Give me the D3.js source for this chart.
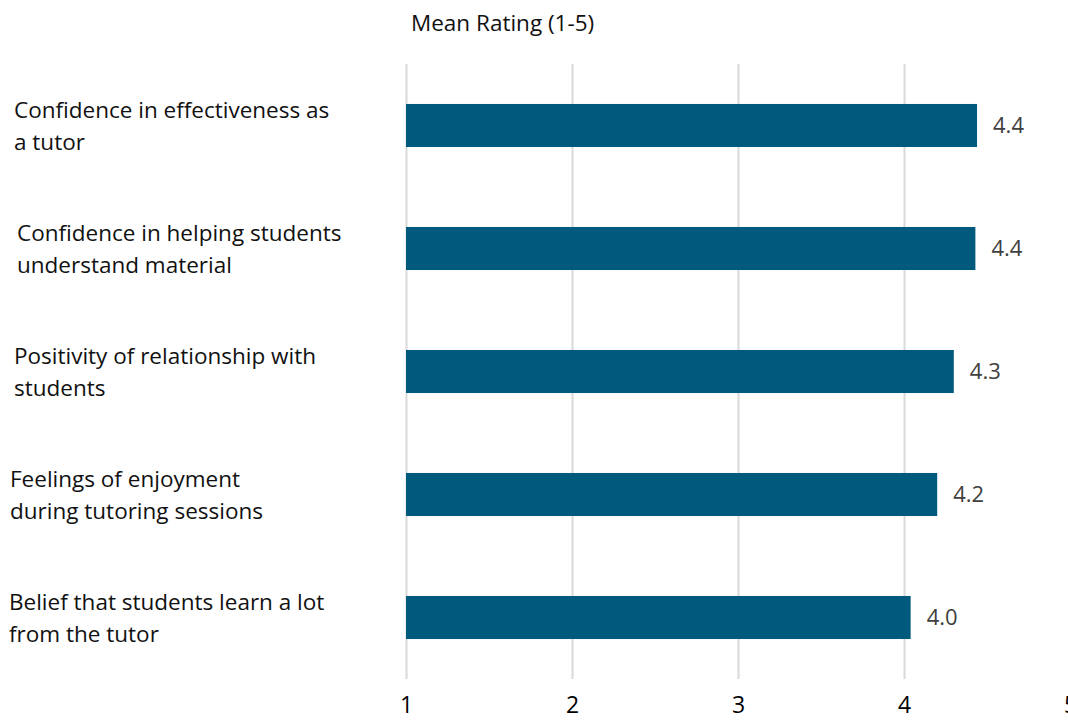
<!DOCTYPE html>
<html>
<head>
<meta charset="utf-8">
<script src="https://cdn.jsdelivr.net/npm/d3@7"></script>
<style>
  body { margin: 0; background: #fff; }
  svg { display: block; font-family: "Segoe UI", "Open Sans", "Noto Sans", sans-serif; }
</style>
</head>
<body>
<div id="chart"></div>
<script>
// data
var categories = [
  ["Confidence in effectiveness as", "a tutor"],
  ["Confidence in helping students", "understand material"],
  ["Positivity of relationship with", "students"],
  ["Feelings of enjoyment", "during tutoring sessions"],
  ["Belief that students learn a lot", "from the tutor"]
];
var meanRatings = [4.44, 4.43, 4.30, 4.20, 4.04];
var ratingTicks = [1, 2, 3, 4, 5];
var axisTitle = "Mean Rating (1-5)";

// label left edges wobble a bit in the original
var labelX = [14, 17, 14, 10, 9];

var width = 1068, height = 723;

var svg = d3.select("#chart").append("svg")
  .attr("width", width)
  .attr("height", height);

var x = d3.scaleLinear().domain([1, 5]).range([406, 1070]);
var y = d3.scaleBand()
  .domain(d3.range(categories.length))
  .range([64, 679])
  .paddingInner(0.65)
  .paddingOuter(0.325);

// gridlines
svg.append("g").selectAll("line")
  .data(ratingTicks)
  .enter().append("line")
  .attr("x1", function(d) { return x(d) + 0.5; })
  .attr("x2", function(d) { return x(d) + 0.5; })
  .attr("y1", 64)
  .attr("y2", 679)
  .attr("stroke", "#d9d9d9")
  .attr("stroke-width", 2);

// bottom tick labels
var xAxis = svg.append("g")
  .attr("transform", "translate(0,697)")
  .call(d3.axisBottom(x).tickValues(ratingTicks).tickSize(0).tickPadding(0).tickFormat(d3.format("d")));
xAxis.select(".domain").remove();
xAxis.selectAll("text")
  .attr("font-size", 23)
  .attr("font-family", "'Liberation Sans Narrow', 'Open Sans', sans-serif")
  .attr("fill", "#000");

// title
svg.append("text")
  .attr("x", 411)
  .attr("y", 31)
  .attr("font-size", 22.5)
  .attr("fill", "#111")
  .text(axisTitle);

// bars
svg.append("g").selectAll("rect")
  .data(meanRatings)
  .enter().append("rect")
  .attr("x", x(1))
  .attr("y", function(d, i) { return y(i); })
  .attr("width", function(d) { return x(d) - x(1); })
  .attr("height", y.bandwidth())
  .attr("fill", "#005a7d");

// value labels
svg.append("g").selectAll("text")
  .data(meanRatings)
  .enter().append("text")
  .attr("x", function(d) { return x(d) + 16; })
  .attr("y", function(d, i) { return y(i) + y.bandwidth() / 2; })
  .attr("dy", "0.35em")
  .attr("font-size", 22)
  .attr("fill", "#404040")
  .text(function(d) { return d3.format(".1f")(d); });

// category labels
var labels = svg.append("g").selectAll("text")
  .data(categories)
  .enter().append("text")
  .attr("x", function(d, i) { return labelX[i]; })
  .attr("y", function(d, i) { return y(i) + y.bandwidth() / 2 - 8; })
  .attr("font-size", 22.5)
  .attr("fill", "#111");
labels.selectAll("tspan")
  .data(function(d) { return d; })
  .enter().append("tspan")
  .attr("x", function() { return this.parentNode.getAttribute("x"); })
  .attr("dy", function(d, i) { return i === 0 ? "0" : "32"; })
  .text(function(d) { return d; });
</script>
</body>
</html>
